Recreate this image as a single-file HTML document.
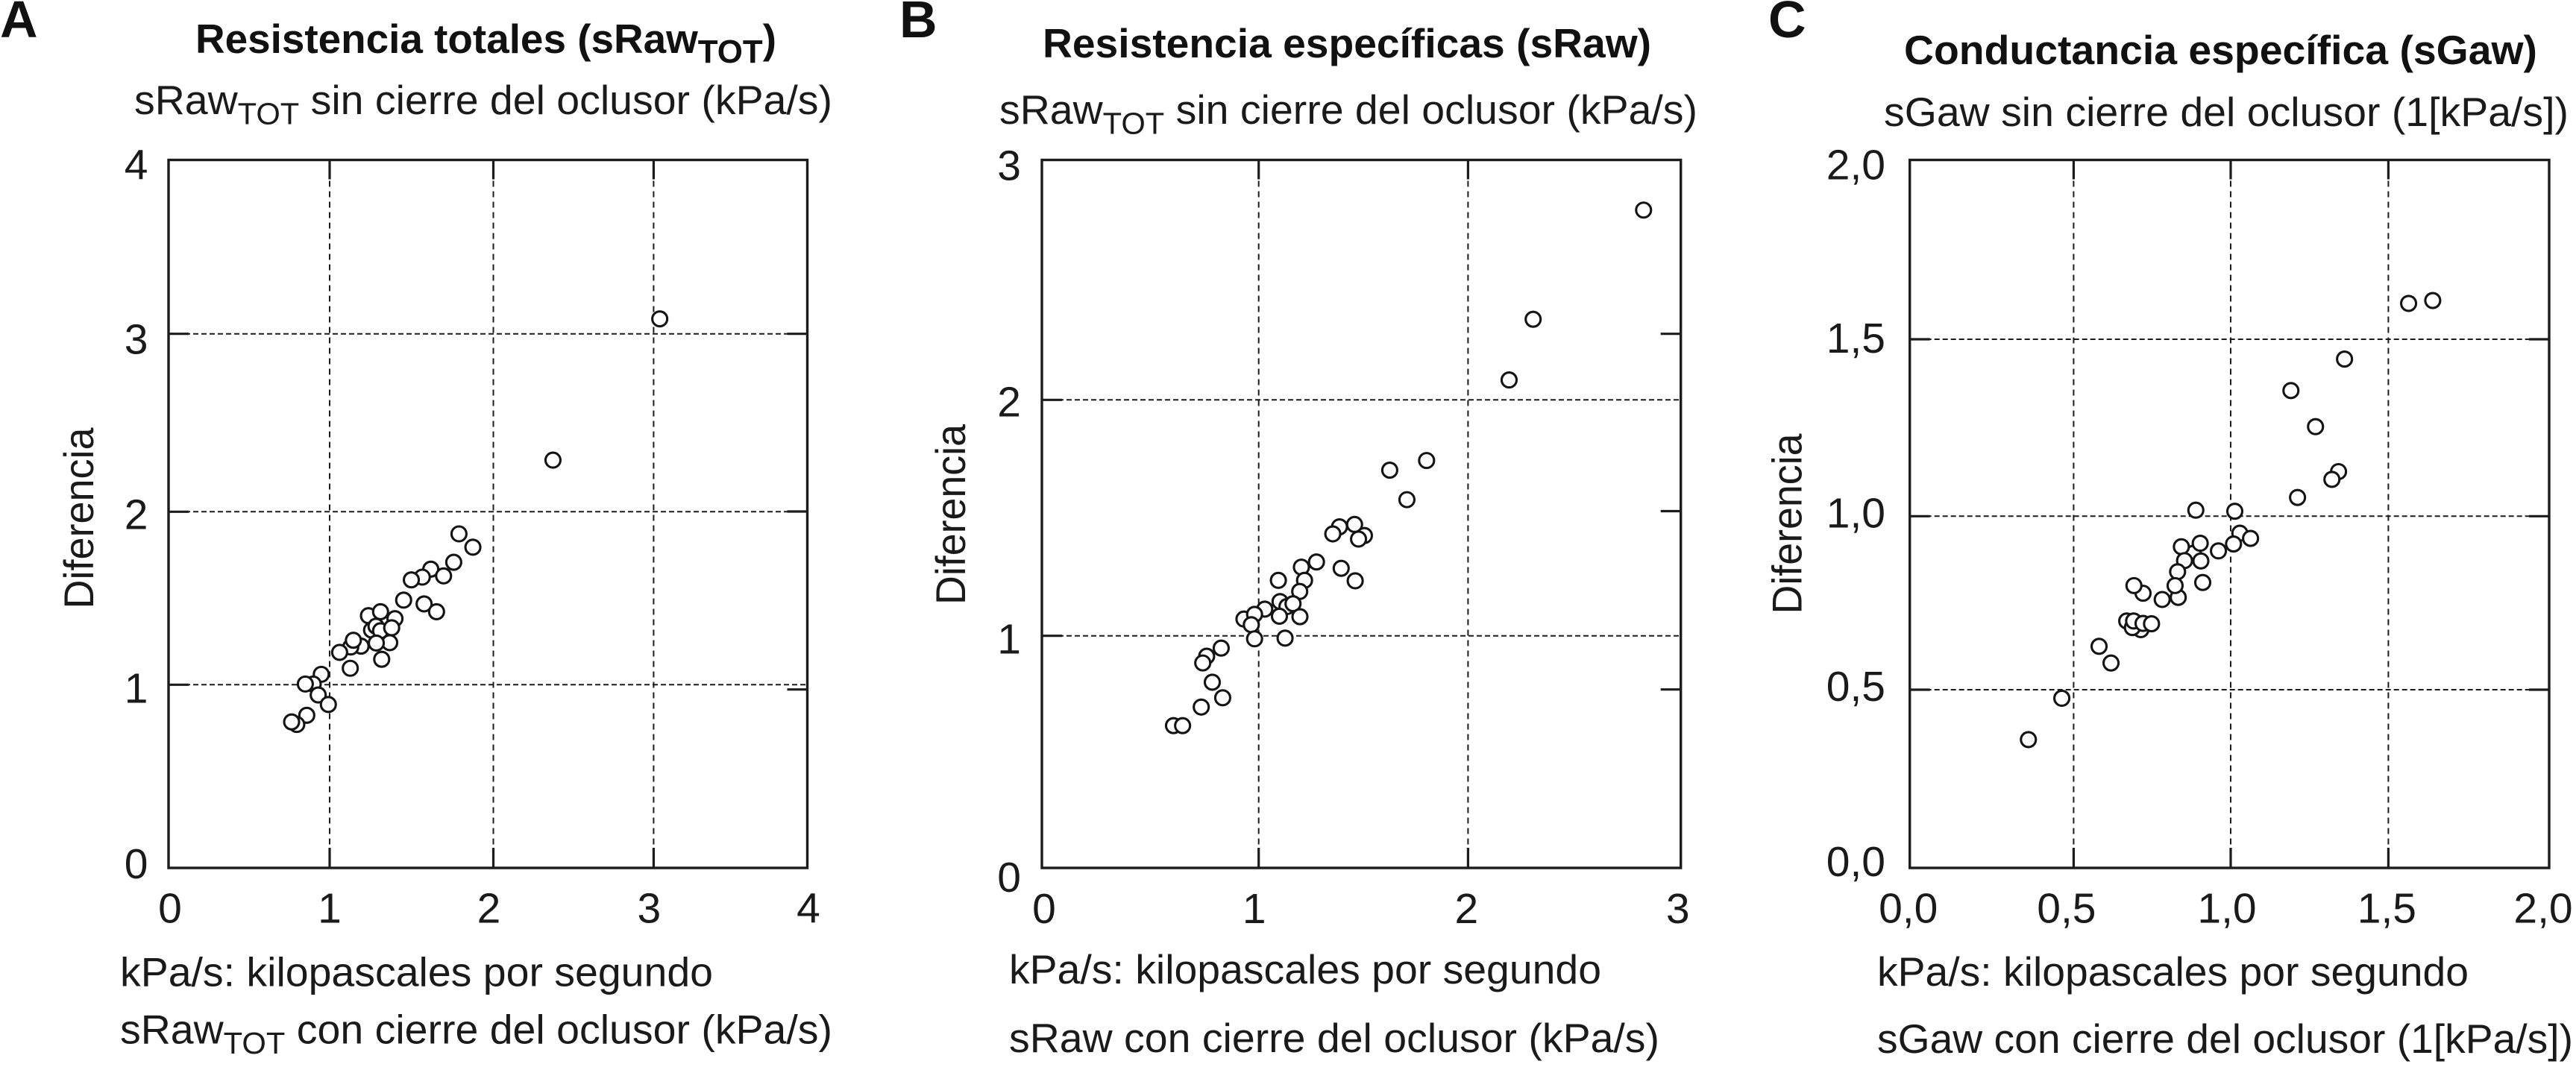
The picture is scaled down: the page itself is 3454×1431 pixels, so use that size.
<!DOCTYPE html>
<html lang="es">
<head>
<meta charset="utf-8">
<title>Resistencia y conductancia</title>
<style>
html,body{margin:0;padding:0;background:#fff;}
svg{display:block;}
text{font-family:"Liberation Sans",Arial,sans-serif;fill:#1a1a1a;}
.letter{font-size:70px;font-weight:700;fill:#111;}
.title{font-size:55px;font-weight:700;fill:#111;}
.sub{font-size:54.5px;}
.tick{font-size:57px;}
.ylab{font-size:56px;}
</style>
</head>
<body>
<svg id="fig" xmlns="http://www.w3.org/2000/svg" width="3454" height="1431" viewBox="0 0 3454 1431">
<rect x="0" y="0" width="3454" height="1431" fill="#fff"/>

<text class="letter" x="0" y="50">A</text>
<text class="title" x="262" y="71" textLength="779" lengthAdjust="spacingAndGlyphs">Resistencia totales (sRaw<tspan font-size="44" dy="13">TOT</tspan><tspan dy="-13">)</tspan></text>
<text class="sub" x="180" y="153" textLength="936" lengthAdjust="spacingAndGlyphs">sRaw<tspan font-size="41" dy="13.5">TOT</tspan><tspan dy="-13.5"> sin cierre del oclusor (kPa/s)</tspan></text>
<text class="sub" x="161" y="1322.7" textLength="795" lengthAdjust="spacingAndGlyphs">kPa/s: kilopascales por segundo</text>
<text class="sub" x="161" y="1399.3" textLength="955" lengthAdjust="spacingAndGlyphs">sRaw<tspan font-size="41" dy="13.5">TOT</tspan><tspan dy="-13.5"> con cierre del oclusor (kPa/s)</tspan></text>
<text class="ylab" transform="translate(125,816.5) rotate(-90)" textLength="243" lengthAdjust="spacingAndGlyphs">Diferencia</text>

<text class="letter" x="1206" y="50">B</text>
<text class="title" x="1398" y="77" textLength="816" lengthAdjust="spacingAndGlyphs">Resistencia específicas (sRaw)</text>
<text class="sub" x="1340" y="166" textLength="936" lengthAdjust="spacingAndGlyphs">sRaw<tspan font-size="41" dy="13.5">TOT</tspan><tspan dy="-13.5"> sin cierre del oclusor (kPa/s)</tspan></text>
<text class="sub" x="1353" y="1319" textLength="794" lengthAdjust="spacingAndGlyphs">kPa/s: kilopascales por segundo</text>
<text class="sub" x="1353" y="1411" textLength="872" lengthAdjust="spacingAndGlyphs">sRaw con cierre del oclusor (kPa/s)</text>
<text class="ylab" transform="translate(1294,811) rotate(-90)" textLength="242" lengthAdjust="spacingAndGlyphs">Diferencia</text>

<text class="letter" x="2371" y="50">C</text>
<text class="title" x="2553" y="86" textLength="849" lengthAdjust="spacingAndGlyphs">Conductancia específica (sGaw)</text>
<text class="sub" x="2526" y="169" textLength="918" lengthAdjust="spacingAndGlyphs">sGaw sin cierre del oclusor (1[kPa/s])</text>
<text class="sub" x="2517" y="1322" textLength="793" lengthAdjust="spacingAndGlyphs">kPa/s: kilopascales por segundo</text>
<text class="sub" x="2517" y="1412" textLength="933" lengthAdjust="spacingAndGlyphs">sGaw con cierre del oclusor (1[kPa/s])</text>
<text class="ylab" transform="translate(2415.5,823.5) rotate(-90)" textLength="242" lengthAdjust="spacingAndGlyphs">Diferencia</text>
</svg>

<script>
// ---- Panel A data ----
const panelAXTicks = [0, 1, 2, 3, 4];
const panelAYTicks = [0, 1, 2, 3, 4];
const panelAXLabels = ['0', '1', '2', '3', '4'];
const panelAYLabels = ['0', '1', '2', '3', '4'];
const panelAX = [3.04, 2.372, 1.79, 1.875, 1.758, 1.618, 1.696, 1.566, 1.499, 1.452, 1.577, 1.653, 1.237, 1.311, 1.399, 1.256, 1.283, 1.311, 1.379, 1.367, 1.285, 1.318, 1.192, 1.129, 1.145, 1.061, 1.126, 0.948, 0.898, 0.849, 0.929, 0.992, 0.858, 0.796, 0.764];
const panelAY = [3.086, 2.29, 1.872, 1.795, 1.708, 1.668, 1.629, 1.622, 1.606, 1.489, 1.467, 1.422, 1.399, 1.422, 1.382, 1.316, 1.338, 1.312, 1.329, 1.243, 1.241, 1.147, 1.223, 1.218, 1.257, 1.187, 1.095, 1.06, 1.004, 1.004, 0.944, 0.892, 0.833, 0.783, 0.797];

// ---- Panel B data ----
const panelBXTicks = [0, 1, 2, 3];
const panelBYTicks = [0, 1, 2, 3];
const panelBXLabels = ['0', '1', '2', '3'];
const panelBYLabels = ['0', '1', '2', '3'];
const panelBX = [2.825, 2.306, 2.193, 1.802, 1.626, 1.708, 1.386, 1.354, 1.458, 1.505, 1.477, 1.276, 1.204, 1.394, 1.461, 1.094, 1.219, 1.196, 1.102, 1.135, 1.164, 1.197, 1.099, 1.029, 0.932, 0.981, 0.966, 0.981, 1.126, 0.827, 0.76, 0.742, 0.786, 0.834, 0.735, 0.607, 0.649];
const panelBY = [2.791, 2.336, 2.083, 1.743, 1.702, 1.577, 1.462, 1.432, 1.472, 1.425, 1.41, 1.313, 1.291, 1.286, 1.233, 1.235, 1.235, 1.188, 1.145, 1.124, 1.136, 1.081, 1.083, 1.113, 1.071, 1.091, 1.047, 0.987, 0.99, 0.947, 0.912, 0.883, 0.8, 0.733, 0.693, 0.613, 0.613];

// ---- Panel C data ----
const panelCXTicks = [0, 0.5, 1, 1.5, 2];
const panelCYTicks = [0, 0.5, 1, 1.5, 2];
const panelCXLabels = ['0,0', '0,5', '1,0', '1,5', '2,0'];
const panelCYLabels = ['0,0', '0,5', '1,0', '1,5', '2,0'];
const panelCX = [1.563, 1.638, 1.361, 1.191, 1.269, 1.342, 1.321, 1.212, 0.889, 1.013, 1.029, 1.063, 1.009, 0.961, 0.881, 0.903, 0.843, 0.853, 0.905, 0.831, 0.833, 0.823, 0.782, 0.911, 0.721, 0.692, 0.669, 0.714, 0.687, 0.691, 0.721, 0.748, 0.581, 0.619, 0.464, 0.362];
const panelCY = [1.6, 1.608, 1.444, 1.355, 1.253, 1.126, 1.104, 1.053, 1.017, 1.014, 0.951, 0.936, 0.92, 0.9, 0.893, 0.922, 0.912, 0.872, 0.871, 0.84, 0.766, 0.8, 0.76, 0.809, 0.778, 0.8, 0.698, 0.673, 0.679, 0.698, 0.691, 0.69, 0.625, 0.577, 0.476, 0.36];

// ---- Layout (page geometry of each panel, separate from the data) ----
const layoutA = { id: 'a', xPx: [226, 442, 661.5, 876.4, 1082.5], yPx: [1164, 918.3, 686.3, 447.7, 214.5],
  xLabelDx: [2, 0, -6, -6, 1.5], xLabelBase: 1237.5, yLabelRight: 198.5, yLabelDy: [14, 24, 23, 27, 26],
  rightTickPx: [447.7, 686, 924.7] };
const layoutB = { id: 'b', xPx: [1397, 1687.7, 1968.4, 2253.7], yPx: [1164, 852.7, 536.3, 214.5],
  xLabelDx: [3, -6, -2, -4], xLabelBase: 1238, yLabelRight: 1369, yLabelDy: [32, 24, 22, 27],
  rightTickPx: [447.7, 685.5, 924.7] };
const layoutC = { id: 'c', xPx: [2560.7, 2780.4, 2991, 3202.4, 3418], yPx: [1164, 925, 692.3, 455, 214.5],
  xLabelDx: [-2, -9.5, -5, -2, -8], xLabelBase: 1237.5, yLabelRight: 2528, yLabelDy: [11, 15, 15, 18, 26],
  rightTickPx: [455, 692.3, 925] };

const NS = 'http://www.w3.org/2000/svg';
const fig = document.getElementById('fig');

function axisFn(ticks, px) {
  return function (v) {
    let i = 0;
    while (i < ticks.length - 2 && v > ticks[i + 1]) i++;
    return px[i] + (v - ticks[i]) / (ticks[i + 1] - ticks[i]) * (px[i + 1] - px[i]);
  };
}

function lineEl(x1, y1, x2, y2, stroke, width, dash) {
  const el = document.createElementNS(NS, 'line');
  el.setAttribute('x1', x1);
  el.setAttribute('y1', y1);
  el.setAttribute('x2', x2);
  el.setAttribute('y2', y2);
  el.setAttribute('stroke', stroke);
  el.setAttribute('stroke-width', width);
  if (dash) el.setAttribute('stroke-dasharray', dash);
  fig.appendChild(el);
  return el;
}

function drawPanel(L, xTicks, yTicks, xLabels, yLabels, xs, ys) {
  const X = axisFn(xTicks, L.xPx);
  const Y = axisFn(yTicks, L.yPx);
  const left = X(xTicks[0]);
  const right = X(xTicks[xTicks.length - 1]);
  const bottom = Y(yTicks[0]);
  const top = Y(yTicks[yTicks.length - 1]);
  const ink = '#1c1c1c';

  for (let i = 1; i < xTicks.length - 1; i++) {
    const px = X(xTicks[i]);
    const g = lineEl(px, top, px, bottom, ink, 2, '8 6');
    
    
    const t1 = lineEl(px, top, px, top + 26, ink, 3.2);
    
    
    const t2 = lineEl(px, bottom - 27, px, bottom, ink, 3.2);
    
    
  }
  for (let i = 1; i < yTicks.length - 1; i++) {
    const py = Y(yTicks[i]);
    const g = lineEl(left, py, right, py, ink, 2, '7 4');
    
    
    const t = lineEl(left, py, left + 27, py, ink, 3.2);
    
    
  }
  L.rightTickPx.forEach(function (py) {
    const t = lineEl(right - 27, py, right, py, ink, 3.2);
    
    
  });

  xs.forEach(function (v, i) {
    const c = document.createElementNS(NS, 'circle');
    c.setAttribute('cx', X(v));
    c.setAttribute('cy', Y(ys[i]));
    c.setAttribute('r', 10);
    c.setAttribute('fill', '#fff');
    c.setAttribute('stroke', '#141414');
    c.setAttribute('stroke-width', 3.1);
    
    
    fig.appendChild(c);
  });

  const frame = document.createElementNS(NS, 'rect');
  frame.setAttribute('x', left);
  frame.setAttribute('y', top);
  frame.setAttribute('width', right - left);
  frame.setAttribute('height', bottom - top);
  frame.setAttribute('fill', 'none');
  frame.setAttribute('stroke', ink);
  frame.setAttribute('stroke-width', 3.4);
  
  
  fig.appendChild(frame);

  xLabels.forEach(function (s, i) {
    const t = document.createElementNS(NS, 'text');
    t.setAttribute('class', 'tick');
    t.setAttribute('text-anchor', 'middle');
    t.setAttribute('x', X(xTicks[i]) + L.xLabelDx[i]);
    t.setAttribute('y', L.xLabelBase);
    
    
    t.textContent = s;
    fig.appendChild(t);
  });
  yLabels.forEach(function (s, i) {
    const t = document.createElementNS(NS, 'text');
    t.setAttribute('class', 'tick');
    t.setAttribute('text-anchor', 'end');
    t.setAttribute('x', L.yLabelRight);
    t.setAttribute('y', Y(yTicks[i]) + L.yLabelDy[i]);
    
    
    t.textContent = s;
    fig.appendChild(t);
  });
}

drawPanel(layoutA, panelAXTicks, panelAYTicks, panelAXLabels, panelAYLabels, panelAX, panelAY);
drawPanel(layoutB, panelBXTicks, panelBYTicks, panelBXLabels, panelBYLabels, panelBX, panelBY);
drawPanel(layoutC, panelCXTicks, panelCYTicks, panelCXLabels, panelCYLabels, panelCX, panelCY);
</script>
</body>
</html>
